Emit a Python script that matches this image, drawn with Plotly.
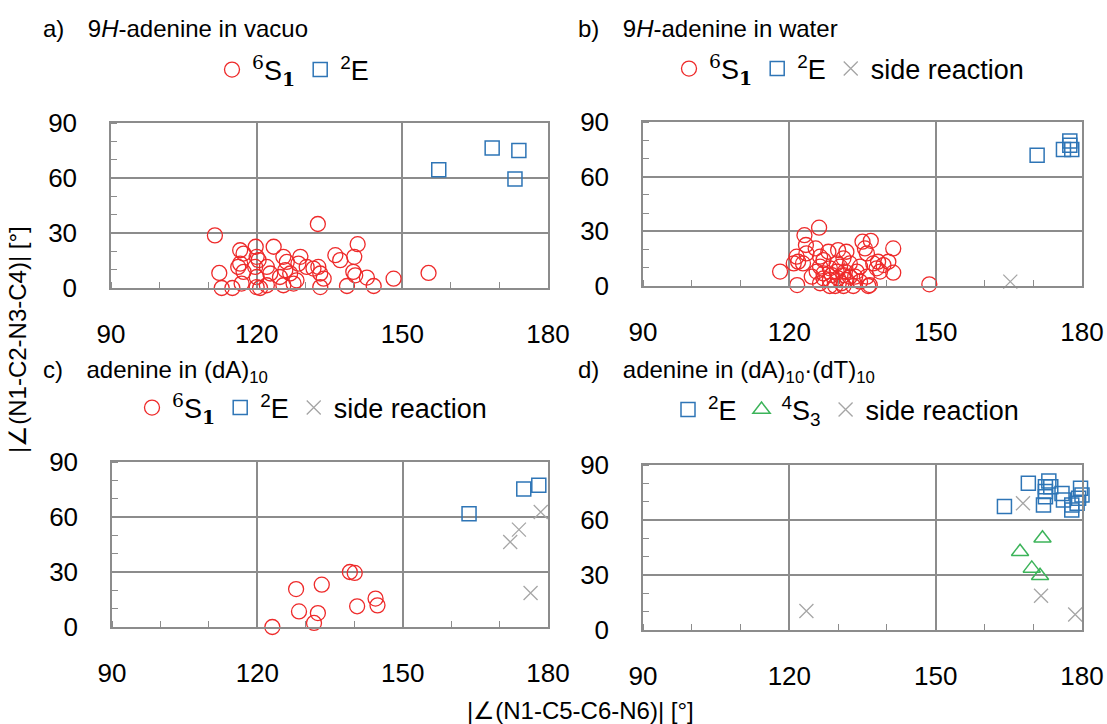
import plotly.graph_objects as go

W, H = 1107, 724

# ---------------- data ----------------
# panel a: 9H-adenine in vacuo
a_s1_x = [111.4, 132.6, 112.3, 112.8, 115.0, 116.6, 117.3, 119.8, 123.5, 116.6, 116.2, 117.3, 116.9,
          120.0, 120.4, 119.7, 120.0, 120.0, 120.7, 122.1, 122.1, 122.8, 125.5, 126.2, 125.9, 125.5,
          127.6, 129.0, 128.6, 126.9, 130.3, 131.7, 132.7, 133.1, 133.8, 133.1, 124.8, 128.2, 136.2,
          137.2, 140.1, 140.8, 139.9, 140.3, 142.7, 144.1, 138.6, 148.2, 155.4]
a_s1_y = [28.7, 34.9, 8.2, 0.0, 0.0, 20.6, 18.8, 22.5, 22.5, 13.3, 11.5, 8.8, 2.4,
          17.0, 15.2, 11.5, 6.0, 0.5, 0.0, 1.5, 11.5, 7.9, 17.0, 14.2, 9.7, 1.5,
          2.4, 17.0, 13.3, 7.9, 11.5, 10.6, 11.5, 7.9, 5.1, 0.5, 6.0, 4.2, 17.9,
          15.2, 17.0, 23.9, 8.8, 6.9, 5.7, 1.1, 1.1, 5.1, 8.2]
a_e_x = [168.5, 174.0, 157.5, 173.2]
a_e_y = [76.3, 75.0, 64.5, 59.5]

# panel b: 9H-adenine in water
b_s1_x = [118.1, 121.6, 148.7, 126.1, 123.1, 123.4, 125.4, 121.5, 121.8, 120.9, 122.8, 128.0,
          130.0, 131.7, 135.0, 136.7, 135.5, 135.9, 141.3, 140.3, 139.3, 141.3, 137.9, 138.6,
          136.5, 136.2, 126.3, 127.0, 128.3, 129.7, 131.1, 132.4, 133.8, 134.5, 124.6, 126.3,
          128.3, 129.4, 130.7, 133.1, 131.7, 130.0, 128.3, 127.0, 125.6, 130.4, 132.4, 127.0,
          126.3, 131.1, 137.2, 138.2, 131.1, 134.5, 135.9, 133.5, 129.7, 128.7, 131.4, 123.5]
b_s1_y = [7.9, 0.5, 0.9, 32.0, 27.9, 22.5, 20.6, 16.1, 13.3, 12.4, 12.4, 18.8,
          19.7, 18.8, 24.3, 24.8, 20.6, 17.9, 20.6, 13.3, 11.5, 7.3, 9.7, 7.9,
          0.5, 0.0, 10.6, 6.9, 9.7, 7.9, 6.0, 5.1, 7.9, 10.6, 5.1, 1.5,
          0.0, 0.0, 1.5, 0.0, 3.3, 4.2, 3.3, 4.2, 7.9, 10.6, 12.4, 14.2,
          16.1, 15.2, 12.4, 13.3, 0.0, 2.4, 5.1, 5.1, 12.4, 6.0, 7.9, 17.9]
b_e_x = [170.8, 176.2, 177.5, 177.9, 177.5]
b_e_y = [71.8, 74.9, 79.6, 74.9, 77.2]
b_side_x = [165.3]
b_side_y = [2.4]

# panel c: adenine in (dA)10
c_s1_x = [123.1, 128.0, 133.3, 128.6, 132.5, 131.7, 139.1, 140.1, 140.6, 144.4, 144.8]
c_s1_y = [0.0, 20.7, 23.1, 8.5, 7.6, 2.2, 30.0, 29.5, 11.3, 15.5, 11.8]
c_e_x = [163.7, 175.0, 178.1]
c_e_y = [61.8, 75.3, 77.3]
c_side_x = [178.5, 174.0, 172.2, 176.4]
c_side_y = [62.7, 53.1, 46.4, 18.5]

# panel d: adenine in (dA)10·(dT)10
d_e_x = [164.1, 169.0, 173.2, 172.5, 172.5, 172.5, 172.1, 175.9, 176.2, 177.9, 177.9, 179.3,
         179.7, 180.0, 179.0, 173.6]
d_e_y = [67.3, 80.0, 81.3, 78.2, 75.5, 72.7, 68.2, 74.5, 70.9, 68.2, 65.5, 71.8,
         77.3, 73.6, 69.1, 78.2]
d_s3_x = [167.3, 171.9, 169.7, 171.4]
d_s3_y = [42.7, 50.0, 33.6, 29.6]
d_side_x = [123.5, 167.9, 171.6, 178.6]
d_side_y = [10.4, 69.1, 18.7, 8.5]

x_ticks = [90, 120, 150, 180]
y_ticks = [0, 30, 60, 90]

GAP = "\u2002\u2009 "
titles = ["a)" + GAP + "9<i>H</i>-adenine in vacuo",
          "b)" + GAP + "9<i>H</i>-adenine in water",
          "c)" + GAP + "adenine in (dA)<sub>10</sub>",
          "d)" + GAP + "adenine in (dA)<sub>10</sub>\u00b7(dT)<sub>10</sub>"]
SERIF = "font-family:'DejaVu Serif',serif"
lbl_s1 = ("<sup><span style=\"%s\">6</span></sup>S"
          "<sub><span style=\"%s;font-weight:bold\">1</span></sub>") % (SERIF, SERIF)
lbl_e = "<sup>2</sup>E"
lbl_s3 = "<sup>4</sup>S<sub>3</sub>"
lbl_side = "side reaction"
x_title = "|\u2220(N1-C5-C6-N6)| [°]"
y_title = "|\u2220(N1-C2-N3-C4)| [°]"

# ---------------- style ----------------
RED = "#ee2a2a"
BLUE = "#2e75b6"
GRAY = "#a6a6a6"
GREEN = "#3cb45a"
GRID = "#8c8c8c"
FONT = "Liberation Sans, Arial, sans-serif"

# pixel boxes (left, right, top, bottom)
boxes = [(111, 548, 123, 288), (643, 1082, 122, 286),
         (112, 548, 462, 627), (643, 1082, 465, 630)]

fig = go.Figure()

def circ(x, y, n, leg):
    return go.Scatter(x=x, y=y, mode="markers", name=lbl_s1, xaxis="x%s" % n, yaxis="y%s" % n,
                      legend=leg, cliponaxis=False,
                      marker=dict(symbol="circle-open", size=15, color=RED, line=dict(width=1.3, color=RED)))

def sq(x, y, n, leg):
    return go.Scatter(x=x, y=y, mode="markers", name=lbl_e, xaxis="x%s" % n, yaxis="y%s" % n,
                      legend=leg, cliponaxis=False,
                      marker=dict(symbol="square-open", size=14, color=BLUE, line=dict(width=1.5, color=BLUE)))

def cross(x, y, n, leg):
    return go.Scatter(x=x, y=y, mode="markers", name=lbl_side, xaxis="x%s" % n, yaxis="y%s" % n,
                      legend=leg, cliponaxis=False,
                      marker=dict(symbol="x-thin-open", size=14, color=GRAY, line=dict(width=1.3, color=GRAY)))

def tri(x, y, n, leg):
    return go.Scatter(x=x, y=y, mode="markers", name=lbl_s3, xaxis="x%s" % n, yaxis="y%s" % n,
                      legend=leg, cliponaxis=False,
                      marker=dict(symbol="triangle-up-open", size=15, color=GREEN, line=dict(width=1.5, color=GREEN)))

fig.add_trace(circ(a_s1_x, a_s1_y, "", "legend"))
fig.add_trace(sq(a_e_x, a_e_y, "", "legend"))

fig.add_trace(circ(b_s1_x, b_s1_y, 2, "legend2"))
fig.add_trace(sq(b_e_x, b_e_y, 2, "legend2"))
fig.add_trace(cross(b_side_x, b_side_y, 2, "legend2"))

fig.add_trace(circ(c_s1_x, c_s1_y, 3, "legend3"))
fig.add_trace(sq(c_e_x, c_e_y, 3, "legend3"))
fig.add_trace(cross(c_side_x, c_side_y, 3, "legend3"))

fig.add_trace(sq(d_e_x, d_e_y, 4, "legend4"))
fig.add_trace(tri(d_s3_x, d_s3_y, 4, "legend4"))
fig.add_trace(cross(d_side_x, d_side_y, 4, "legend4"))

layout = dict(width=W, height=H, margin=dict(l=0, r=0, t=0, b=0, autoexpand=False),
              paper_bgcolor="white", plot_bgcolor="white", showlegend=True,
              font=dict(family=FONT, size=20, color="black"))

TICKSIZE = 26
for i, (l, r, t, b) in enumerate(boxes):
    sfx = "" if i == 0 else str(i + 1)
    layout["xaxis" + sfx] = dict(
        domain=[l / W, r / W], range=[90, 180], anchor="y" + sfx,
        tickvals=x_ticks, ticks="", showgrid=True, gridcolor=GRID, gridwidth=1.5,
        showline=True, linecolor=GRID, linewidth=1.5, mirror=True, zeroline=False,
        tickfont=dict(size=TICKSIZE), ticklabelstandoff=22, automargin=False,
        minor=dict(dtick=10, ticks="inside", ticklen=6, tickcolor=GRID, tickwidth=1.2, showgrid=False))
    layout["yaxis" + sfx] = dict(
        domain=[1 - b / H, 1 - t / H], range=[0, 90], anchor="x" + sfx,
        tickvals=y_ticks, ticks="", showgrid=True, gridcolor=GRID, gridwidth=1.5,
        showline=True, linecolor=GRID, linewidth=1.5, mirror=True, zeroline=False,
        tickfont=dict(size=TICKSIZE), ticklabelstandoff=27, automargin=False,
        minor=dict(dtick=10, ticks="inside", ticklen=6, tickcolor=GRID, tickwidth=1.2, showgrid=False))

leg_pos = [(293, 70), (849, 69), (312, 408), (846, 410)]
for i, (lx, ly) in enumerate(leg_pos):
    key = "legend" if i == 0 else "legend%d" % (i + 1)
    layout[key] = dict(x=lx / W, y=1 - ly / H, xanchor="center", yanchor="middle",
                       orientation="h", bgcolor="rgba(0,0,0,0)", itemwidth=30,
                       font=dict(family=FONT, size=27), tracegroupgap=0)

title_pos = [(41, 28), (576, 28), (41, 371), (576, 371)]
ann = []
for (tx, ty), txt in zip(title_pos, titles):
    ann.append(dict(x=tx / W, y=1 - ty / H, xref="paper", yref="paper", text=txt,
                    showarrow=False, xanchor="left", yanchor="middle",
                    font=dict(family=FONT, size=24)))
ann.append(dict(x=580 / W, y=1 - 710 / H, xref="paper", yref="paper", text=x_title,
                showarrow=False, xanchor="center", yanchor="middle", font=dict(family=FONT, size=24)))
ann.append(dict(x=17 / W, y=1 - 340 / H, xref="paper", yref="paper", text=y_title, textangle=-90,
                showarrow=False, xanchor="center", yanchor="middle", font=dict(family=FONT, size=24)))
layout["annotations"] = ann

fig.update_layout(**layout)
fig.write_html("out.html")
